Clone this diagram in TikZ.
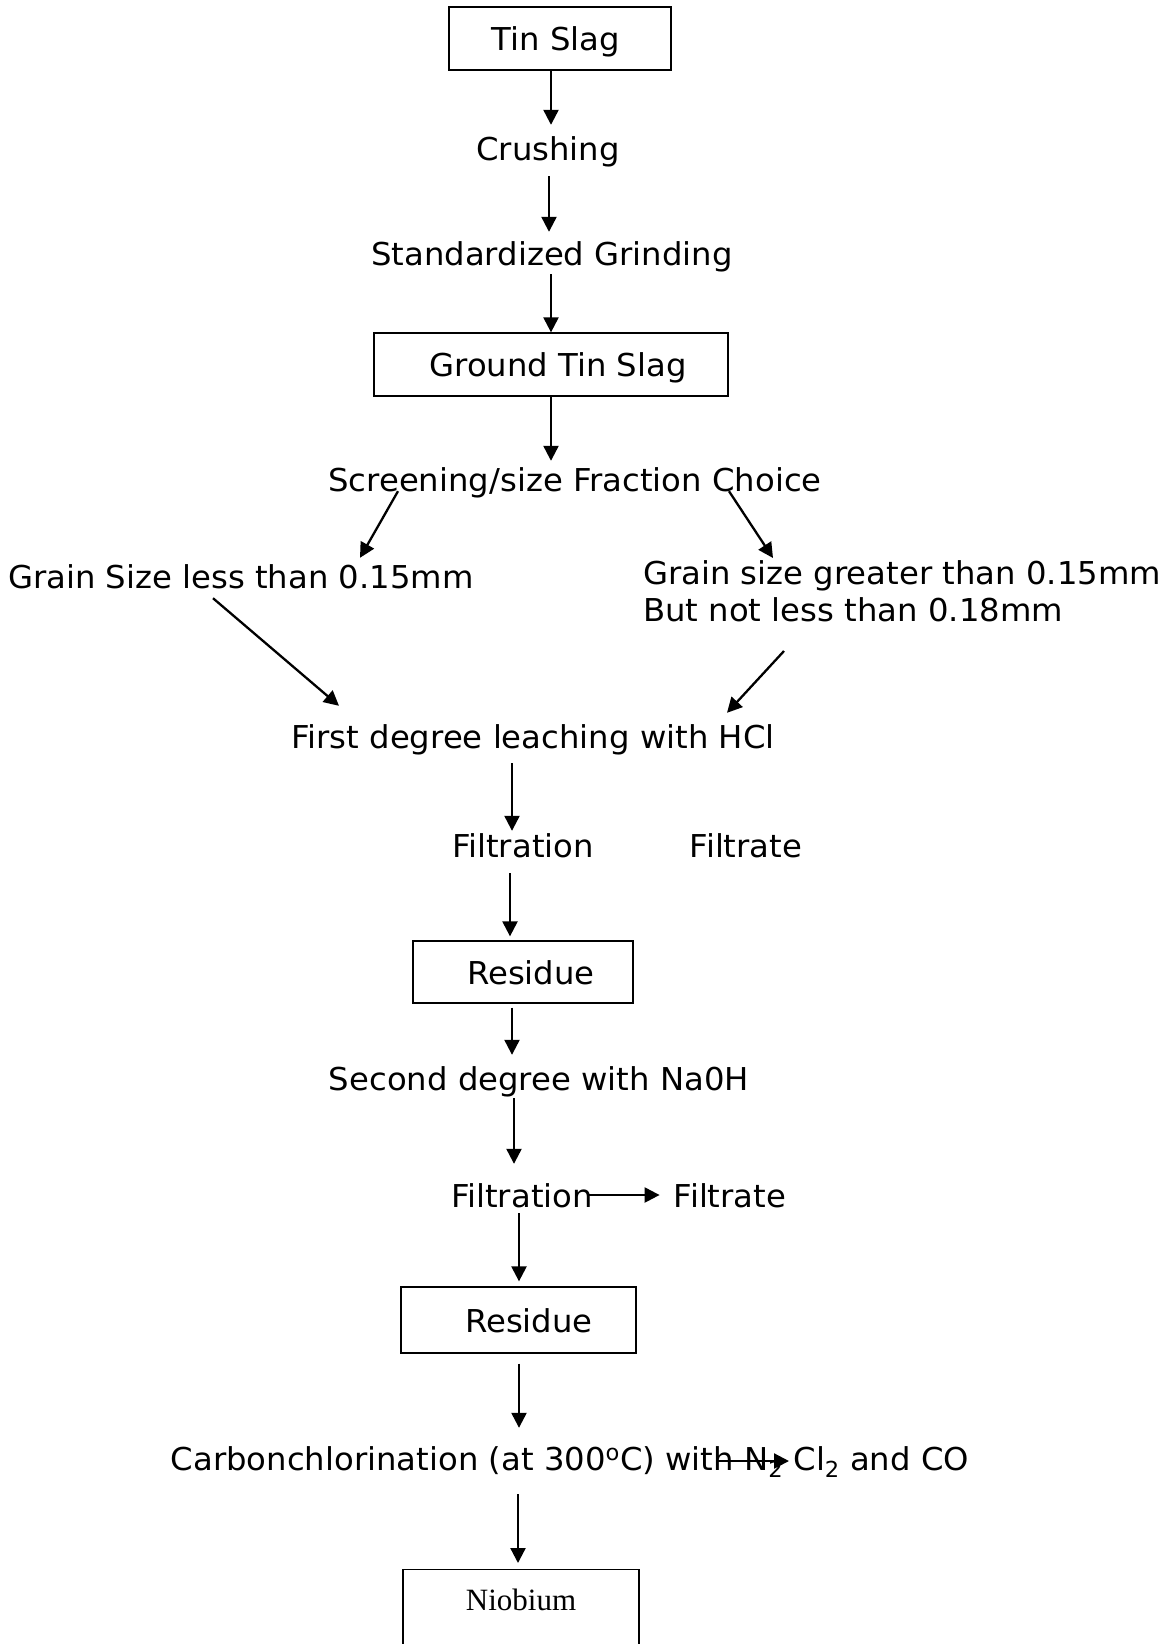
\documentclass[tikz,border=0pt]{standalone}
\usepackage{fontspec}
\setmainfont[FakeStretch=1.025]{DejaVu Sans}
\newfontfamily\serifa{Liberation Serif}
\usetikzlibrary{arrows.meta}

\begin{document}
\begin{tikzpicture}[x=1pt, y=-1pt, font=\fontsize{31.5}{37}\selectfont]
        \tikzstyle{caixa}=[draw=black, line width=1.3pt, inner sep=0pt, text height=24pt, text depth=0pt]
        \tikzstyle{texto}=[inner sep=0pt, text height=24pt, text depth=0pt, anchor=base]
        \tikzstyle{seta}=[line width=2.3pt, -{Triangle[length=15pt, width=15pt]}]

        \useasboundingbox (0,0) rectangle (1162,1644);

        % boxes
        \node[caixa, minimum width=222pt, minimum height=63pt] (tin) at (560,38.5) {Tin Slag\hspace*{8pt}};
        \node[caixa, minimum width=354pt, minimum height=63pt] (ground) at (551,364.5) {\hspace*{14pt}Ground Tin Slag};
        \node[caixa, minimum width=220pt, minimum height=62pt] (res1) at (523,972) {\hspace*{16pt}Residue};
        \node[caixa, minimum width=235pt, minimum height=66pt] (res2) at (518.5,1320) {\hspace*{21pt}Residue};
        \node[caixa, anchor=north, minimum width=236pt, text height=41pt, text depth=60pt,
              font=\serifa\fontsize{31}{36}\selectfont] (niob) at (521,1569) {Niobium};

        % steps
        \node[texto] (crush) at (548,160) {Crushing};
        \node[texto] (grind) at (552,265) {Standardized Grinding};
        \node[texto] (screen) at (575,491) {Screening/size Fraction Choice};
        \node[texto, anchor=base west] (small) at (8,588) {Grain Size less than 0.15mm};
        \node[anchor=north west, inner sep=0pt, align=left] (large) at (643,560)
              {Grain size greater than 0.15mm\\But not less than 0.18mm};
        \node[texto] (leach) at (533,748) {First degree leaching with HCl};
        \node[texto] (filt1) at (523,857) {Filtration};
        \node[texto] (filtrate1) at (746,857) {Filtrate};
        \node[texto] (second) at (539,1090) {Second degree with Na0H};
        \node[texto] (filt2) at (522,1207) {Filtration};
        \node[texto] (filtrate2) at (730,1207) {Filtrate};
        \node[texto] (carbon) at (570,1470)
              {Carbonchlorination (at 300\textsuperscript{o}C) with N\textsubscript{2} Cl\textsubscript{2} and CO};

        % main line
        \draw[seta] ([shift={(-9,0)}]tin.south) -- ([shift={(3,-11)}]crush.north);
        \draw[seta] ([shift={(1,16)}]crush.south) -- ([shift={(-3,-9)}]grind.north);
        \draw[seta] ([shift={(-1,9)}]grind.south) -- (ground.north);
        \draw[seta] (ground.south) -- ([shift={(-24,-6)}]screen.north);
        \draw[seta] ([shift={(-177,0)}]screen.south) -- ([shift={(352,-6)}]small.north west);
        \draw[seta] ([shift={(154,0)}]screen.south) -- ([shift={(130,-2)}]large.north west);
        \draw[seta] ([shift={(205,10)}]small.south west) -- ([shift={(-194,-18)}]leach.north);
        \draw[seta] ([shift={(141,91)}]large.north west) -- ([shift={(194,-11)}]leach.north);
        \draw[seta] ([shift={(-21,15)}]leach.south) -- ([shift={(-11,-2)}]filt1.north);
        \draw[seta] ([shift={(-13,16)}]filt1.south) -- ([shift={(-13,-4)}]res1.north);
        \draw[seta] ([shift={(-11,4)}]res1.south) -- ([shift={(-27,-11)}]second.north);
        \draw[seta] ([shift={(-25,8)}]second.south) -- ([shift={(-8,-19)}]filt2.north);
        \draw[seta] ([xshift=-4pt]filt2.east) -- ([xshift=-14pt]filtrate2.west);
        \draw[seta] ([shift={(-3,6)}]filt2.south) -- ([shift={(0.5,-5)}]res2.north);
        \draw[seta] ([shift={(0.5,10)}]res2.south) -- ([shift={(-51,-18)}]carbon.north);
        \draw[seta] ([shift={(146,3)}]carbon.center) -- ([shift={(219,3)}]carbon.center);
        \draw[seta] ([shift={(-52,24)}]carbon.south) -- ([shift={(-3,-6)}]niob.north);
      \end{tikzpicture}
\end{document}
